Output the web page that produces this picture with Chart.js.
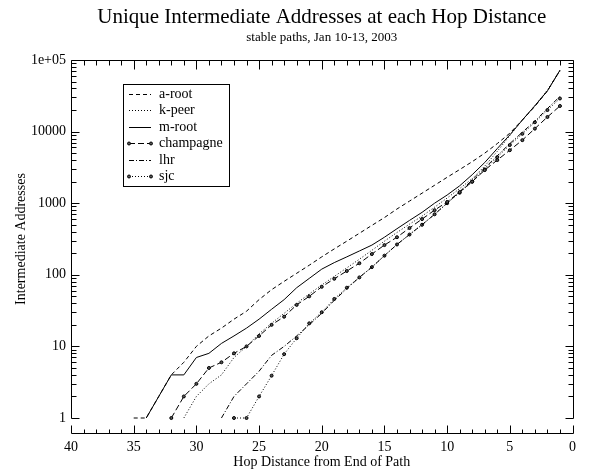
<!DOCTYPE html>
<html>
<head>
<meta charset="utf-8">
<script src="https://cdn.jsdelivr.net/npm/chart.js@4/dist/chart.umd.min.js"></script>
<style>
  html, body { margin: 0; padding: 0; background: #fff; }
</style>
</head>
<body>
<canvas id="chart" width="597" height="472"></canvas>
<script>
// Тексты
const titleText = "Unique Intermediate Addresses at each Hop Distance";
const subtitleText = "stable paths, Jan 10-13, 2003";
const xAxisTitle = "Hop Distance from End of Path";
const yAxisTitle = "Intermediate Addresses";

// Подписи осей
const xTickValues = [40, 35, 30, 25, 20, 15, 10, 5, 0];
const yTickValues = [1, 10, 100, 1000, 10000, 100000];
const yTickLabels = ["1", "10", "100", "1000", "10000", "1e+05"];

// Данные серий (хоп -> число адресов)
const aRootHops = [35, 34, 33, 32, 31, 30, 29, 28, 27, 26, 25, 24, 23, 22, 21, 20, 19, 18, 17, 16, 15, 14, 13, 12, 11, 10, 9, 8, 7, 6, 5, 4, 3, 2, 1];
const aRootValues = [1, 1, 2, 4, 6, 10, 14, 18, 24, 31, 45, 62, 81, 105, 136, 178, 230, 295, 380, 490, 630, 830, 1070, 1380, 1780, 2300, 2950, 3800, 5000, 6800, 9500, 14500, 22500, 37000, 72000];

const kPeerHops = [31, 30, 29, 28, 27, 26, 25, 24, 23, 22, 21, 20, 19, 18, 17, 16, 15, 14, 13, 12, 11, 10, 9, 8, 7, 6, 5, 4, 3, 2, 1];
const kPeerValues = [1, 2, 3, 4, 7, 10, 15, 21, 29, 40, 54, 72, 95, 125, 165, 220, 295, 390, 510, 660, 880, 1180, 1600, 2200, 3300, 5300, 8800, 14500, 23000, 38000, 70000];

const mRootHops = [34, 33, 32, 31, 30, 29, 28, 27, 26, 25, 24, 23, 22, 21, 20, 19, 18, 17, 16, 15, 14, 13, 12, 11, 10, 9, 8, 7, 6, 5, 4, 3, 2, 1];
const mRootValues = [1, 2, 4, 4, 7, 8, 11, 14, 18, 24, 33, 45, 66, 89, 120, 148, 178, 215, 260, 335, 440, 575, 745, 1000, 1300, 1750, 2500, 3700, 5800, 9000, 14500, 23000, 37000, 72000];

const champagneHops = [32, 31, 30, 29, 28, 27, 26, 25, 24, 23, 22, 21, 20, 19, 18, 17, 16, 15, 14, 13, 12, 11, 10, 9, 8, 7, 6, 5, 4, 3, 2, 1];
const champagneValues = [1, 2, 3, 5, 6, 8, 10, 14, 20, 26, 38, 50, 68, 88, 113, 145, 195, 260, 335, 450, 600, 800, 1040, 1430, 2000, 2900, 4000, 5500, 7600, 11000, 16000, 22800];

const lhrHops = [28, 27, 26, 25, 24, 23, 22, 21, 20, 19, 18, 17, 16, 15, 14, 13, 12, 11, 10, 9, 8, 7, 6, 5, 4, 3, 2, 1];
const lhrValues = [1, 2, 3, 4.5, 7.5, 10, 14, 20, 29, 44, 64, 92, 128, 185, 265, 365, 500, 700, 1000, 1450, 2100, 3100, 4600, 6800, 9800, 14000, 21000, 31000];

const sjcHops = [27, 26, 25, 24, 23, 22, 21, 20, 19, 18, 17, 16, 15, 14, 13, 12, 11, 10, 9, 8, 7, 6, 5, 4, 3, 2, 1];
const sjcValues = [1, 1, 2, 3.9, 7.8, 13, 21, 30, 46, 66, 92, 128, 185, 265, 365, 500, 700, 1000, 1400, 2000, 2950, 4400, 6500, 9300, 13500, 20000, 29000];

const FONT = '"Liberation Serif", "Times New Roman", serif';

function toPoints(hops, values) {
    return hops.map((h, i) => ({ x: h, y: values[i] }));
}

function series(label, hops, values, dash, markers) {
    return {
        label: label,
        data: toPoints(hops, values),
        borderColor: "#000",
        borderWidth: 1,
        borderDash: dash,
        pointRadius: markers ? 1.5 : 0,
        pointBorderWidth: 1,
        pointBorderColor: "#000",
        pointBackgroundColor: "#555",
        tension: 0,
        clip: 4,
    };
}

// Рамка (без нижней линии), внутренние засечки, заголовки и легенда
const decorations = {
    id: "decorations",
    afterDraw(chart) {
        const { ctx, chartArea: a, scales } = chart;
        const xs = scales.x, ys = scales.y;
        ctx.save();
        ctx.strokeStyle = "#000";
        ctx.fillStyle = "#000";
        ctx.lineWidth = 1;
        ctx.setLineDash([]);

        // заголовки
        const cx = (a.left + a.right) / 2;
        ctx.textAlign = "center";
        ctx.textBaseline = "middle";
        ctx.font = "21px " + FONT;
        ctx.fillText(titleText, cx, 17);
        ctx.font = "13px " + FONT;
        ctx.fillText(subtitleText, cx, 38);

        const L = Math.round(a.left) + 0.5;
        const R = Math.round(a.right) + 0.5;
        const T = Math.round(a.top) + 0.5;
        const B = Math.round(a.bottom) + 0.5;

        ctx.beginPath();
        // левая, верхняя и правая стороны
        ctx.moveTo(L, B);
        ctx.lineTo(L, T);
        ctx.lineTo(R, T);
        ctx.lineTo(R, B);
        // засечки сверху
        for (let v = 0; v <= 40; v++) {
            const px = Math.round(xs.getPixelForValue(v)) + 0.5;
            const len = v % 5 === 0 ? 9 : 5;
            ctx.moveTo(px, T);
            ctx.lineTo(px, T + len);
        }
        // отдельная ось снизу
        const y0 = B + 15;
        ctx.moveTo(L, y0);
        ctx.lineTo(R, y0);
        for (let v = 0; v <= 40; v++) {
            const px = Math.round(xs.getPixelForValue(v)) + 0.5;
            const len = v % 5 === 0 ? 8 : 4;
            ctx.moveTo(px, y0);
            ctx.lineTo(px, y0 - len);
        }
        // засечки слева и справа (логарифмические)
        for (let d = 0; d < 5; d++) {
            for (let m = 1; m <= 9; m++) {
                const v = m * Math.pow(10, d);
                const py = Math.round(ys.getPixelForValue(v)) + 0.5;
                const len = m === 1 ? 8 : 5;
                ctx.moveTo(L, py);
                ctx.lineTo(L + len, py);
                ctx.moveTo(R, py);
                ctx.lineTo(R - len, py);
            }
        }
        ctx.stroke();

        // легенда
        const lx = 123.5, ly = 84.5, lw = 106, lh = 102;
        ctx.fillStyle = "#fff";
        ctx.fillRect(lx, ly, lw, lh);
        ctx.strokeRect(lx, ly, lw, lh);
        ctx.font = "14px " + FONT;
        ctx.textAlign = "left";
        ctx.textBaseline = "middle";
        chart.data.datasets.forEach((ds, i) => {
            const yy = Math.round(94 + i * 16.4) + 0.5;
            ctx.setLineDash(ds.borderDash || []);
            ctx.beginPath();
            ctx.moveTo(129, yy);
            ctx.lineTo(151, yy);
            ctx.stroke();
            ctx.setLineDash([]);
            if (ds.pointRadius > 0) {
                [129, 151].forEach((px) => {
                    ctx.beginPath();
                    ctx.arc(px, yy, ds.pointRadius, 0, Math.PI * 2);
                    ctx.fillStyle = ds.pointBackgroundColor;
                    ctx.fill();
                    ctx.stroke();
                });
            }
            ctx.fillStyle = "#000";
            ctx.fillText(ds.label, 159, yy);
        });
        ctx.restore();
    },
};

new Chart(document.getElementById("chart"), {
    type: "line",
    data: {
        datasets: [
            series("a-root", aRootHops, aRootValues, [4, 3], false),
            series("k-peer", kPeerHops, kPeerValues, [1, 2], false),
            series("m-root", mRootHops, mRootValues, [], false),
            series("champagne", champagneHops, champagneValues, [6, 3], true),
            series("lhr", lhrHops, lhrValues, [5, 2, 1, 2], false),
            series("sjc", sjcHops, sjcValues, [1, 2], true),
        ],
    },
    options: {
        responsive: false,
        animation: false,
        layout: { padding: { left: 0, right: 12, top: 60, bottom: 0 } },
        plugins: {
            legend: { display: false },
            tooltip: { enabled: false },
        },
        scales: {
            x: {
                type: "linear",
                reverse: true,
                min: 0,
                max: 40,
                afterBuildTicks: (s) => {
                    s.ticks = xTickValues.map((v) => ({ value: v }));
                },
                afterFit: (s) => {
                    s.height = 54;
                },
                ticks: {
                    padding: 21,
                    color: "#000",
                    font: { family: FONT, size: 14 },
                    maxRotation: 0,
                    autoSkip: false,
                    callback: (v) => String(v),
                },
                grid: { display: false, drawTicks: false },
                border: { display: false },
                title: {
                    display: true,
                    text: xAxisTitle,
                    color: "#000",
                    font: { family: FONT, size: 14 },
                    padding: { top: 0, bottom: 1 },
                },
            },
            y: {
                type: "logarithmic",
                min: 1,
                max: 100000,
                afterBuildTicks: (s) => {
                    s.ticks = yTickValues.map((v) => ({ value: v }));
                },
                afterFit: (s) => {
                    s.width = 71;
                },
                ticks: {
                    padding: 5,
                    color: "#000",
                    font: { family: FONT, size: 14 },
                    autoSkip: false,
                    callback: (v) => {
                        const i = yTickValues.indexOf(v);
                        return i >= 0 ? yTickLabels[i] : "";
                    },
                },
                grid: { display: false, drawTicks: false },
                border: { display: false },
                title: {
                    display: true,
                    text: yAxisTitle,
                    color: "#000",
                    font: { family: FONT, size: 14 },
                    padding: { top: 13, bottom: 0 },
                },
            },
        },
    },
    plugins: [decorations],
});
</script>
</body>
</html>
